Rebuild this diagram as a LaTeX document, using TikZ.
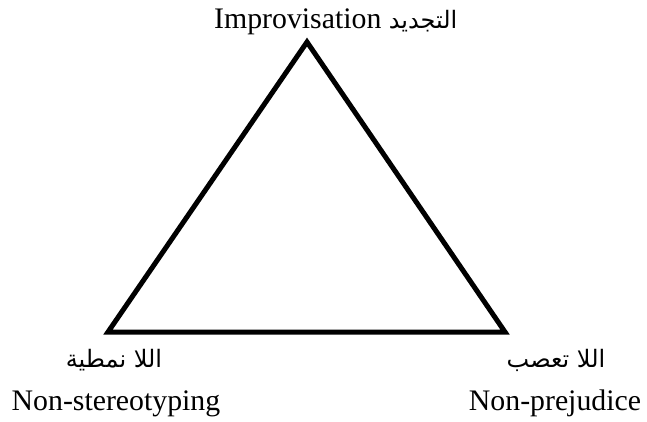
\documentclass[tikz,border=0pt]{standalone}
\usepackage{fontspec}
\setmainfont{Liberation Serif}
\newfontfamily\arabicfont[Script=Arabic]{DejaVu Sans}
\TeXXeTstate=1
\begin{document}
\begin{tikzpicture}[x=1pt,y=-1pt,
  lbl/.style={font=\fontsize{29.8}{32}\selectfont, inner sep=0pt, anchor=base},
  albl/.style={font=\arabicfont\fontsize{24}{28}\selectfont, inner sep=0pt, anchor=base},
  edge/.style={line width=5pt, line join=miter}]
\useasboundingbox (0,0) rectangle (647,421);
\coordinate (A) at (307,42);
\coordinate (B) at (108,332);
\coordinate (C) at (505,332);
\draw[edge] (A) -- (B) -- (C) -- cycle;
\node[lbl, anchor=base west] (top) at (214,28) {Improvisation};
\node[albl, anchor=base west] (topar) at (top.base east) [xshift=7pt] {\beginR التجديد\endR};
\node[albl] (blar) at (114,367) {\beginR اللا نمطية\endR};
\node[lbl] (blen) at (116,410) {Non-stereotyping};
\node[albl] (brar) at (556,367) {\beginR اللا تعصب\endR};
\node[lbl] (bren) at (555,410) {Non-prejudice};
\end{tikzpicture}
\end{document}
